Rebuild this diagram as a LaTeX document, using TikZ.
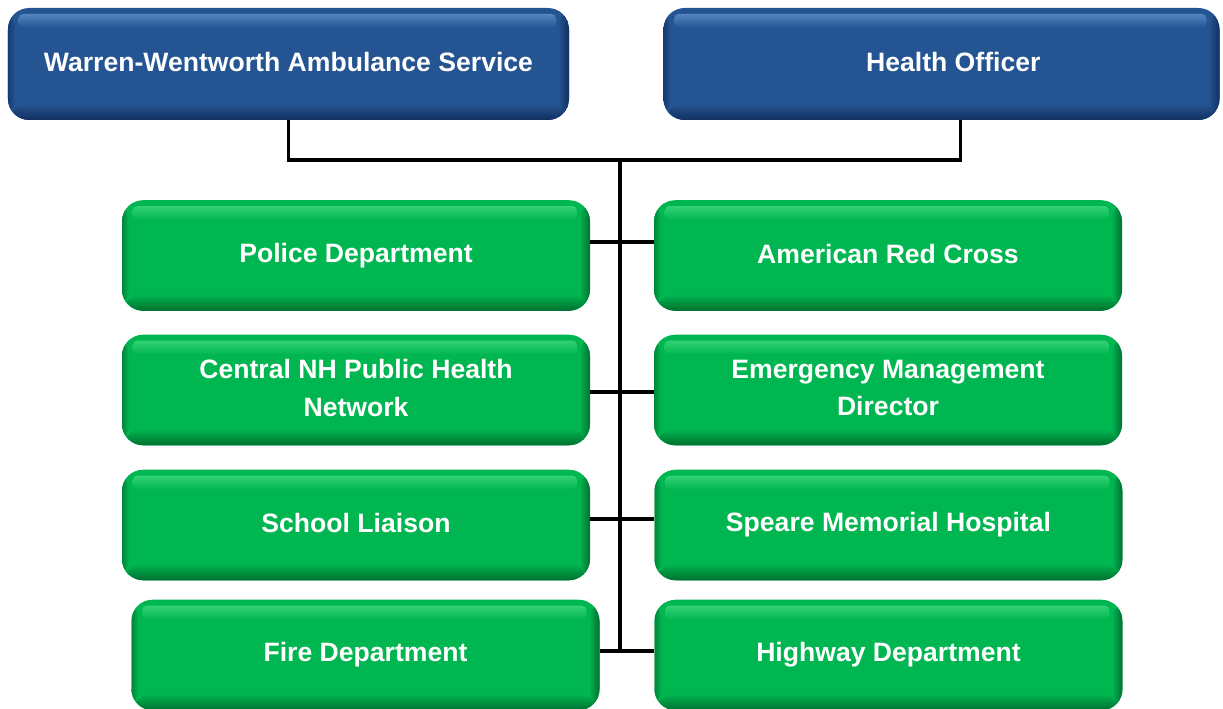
\documentclass[tikz,border=0pt]{standalone}
\usepackage{fontspec}
\setmainfont{Liberation Sans}
\definecolor{bmain}{RGB}{36,84,146}
\definecolor{bdark}{RGB}{18,48,95}
\definecolor{blight}{RGB}{84,134,194}
\definecolor{gmain}{RGB}{0,182,80}
\definecolor{gdark}{RGB}{0,112,48}
\definecolor{glight}{RGB}{50,210,115}
\newcommand{\sst}{\rule[-3.6pt]{0pt}{16.4pt}}
\tikzset{
  orgbox/.style n args={3}{rectangle, rounded corners=18pt, inner sep=0pt,
    text=white, font=\bfseries\fontsize{22.6}{32}\selectfont, align=center,
    path picture={
      \fill[#1] (path picture bounding box.south west) rectangle (path picture bounding box.north east);
      \shade[top color=#1, bottom color=#2] (path picture bounding box.south west) rectangle ([yshift=14pt]path picture bounding box.south east);
      \shade[left color=#1, right color=#2] ([xshift=-9pt]path picture bounding box.south east) rectangle (path picture bounding box.north east);
      \shade[left color=#2!70!#1, right color=#1] (path picture bounding box.south west) rectangle ([xshift=6pt]path picture bounding box.north west);
      \shade[top color=#3, bottom color=#1, rounded corners=4pt] ([xshift=9pt,yshift=-5pt]path picture bounding box.north west) rectangle ([xshift=-11pt,yshift=-17pt]path picture bounding box.north east);
    }},
  bluebox/.style={orgbox={bmain}{bdark}{blight}, minimum width=476.9pt, minimum height=95.2pt},
  greenbox/.style={orgbox={gmain}{gdark}{glight}, minimum width=397.8pt, minimum height=94pt},
  link/.style={line width=2.6pt, black}
}
\begin{document}
\begin{tikzpicture}[x=0.85pt, y=-0.85pt]
\useasboundingbox (0,0) rectangle (1223,709);
% top boxes
\node[bluebox] (wb) at (288.5,64) {\sst Warren-Wentworth Ambulance Service};
\node[bluebox, minimum width=472.6pt] (ho) at (941.5,64) {\hspace*{20pt}\sst Health Officer};
% green boxes
\node[greenbox] (pd)  at (356,255.5) {\sst Police Department};
\node[greenbox] (arc) at (888,255.5) {\sst American Red Cross};
\node[greenbox] (cnh) at (356,390) {\sst Central NH Public Health\\\sst Network};
\node[greenbox] (emd) at (888,390) {\sst Emergency Management\\\sst Director};
\node[greenbox] (sl)  at (356,525) {\sst School Liaison};
\node[greenbox] (smh) at (888.5,525) {\sst Speare Memorial Hospital};
\node[greenbox] (fd)  at (365.5,655) {\sst Fire Department};
\node[greenbox] (hd)  at (888.5,655) {\sst Highway Department};
% connectors
\coordinate (jn) at (620,160);
\coordinate (tb) at (620,651);
\draw[link] (wb.south) |- (jn);
\draw[link] ([xshift=16pt]ho.south) |- (jn);
\draw[link] (jn) -- (tb);
\draw[link] (pd.east |- 0,242) -- (arc.west |- 0,242);
\draw[link] (cnh.east |- 0,392) -- (emd.west |- 0,392);
\draw[link] (sl.east |- 0,519) -- (smh.west |- 0,519);
\draw[link] (fd.east |- tb) -- (hd.west |- tb);
\end{tikzpicture}
\end{document}
